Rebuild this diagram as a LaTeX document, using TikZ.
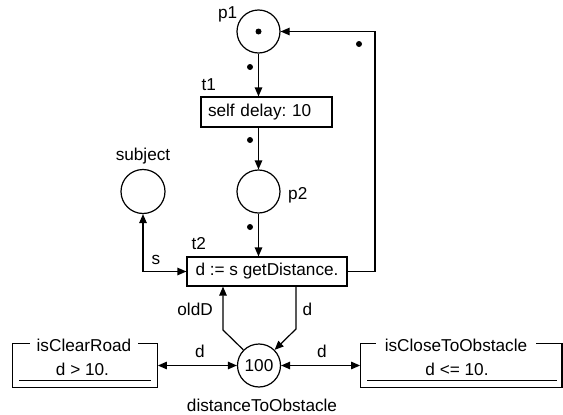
\documentclass[tikz,border=0pt]{standalone}
\usepackage{fontspec}
\setmainfont{Liberation Sans}
\usetikzlibrary{arrows.meta,positioning,calc}
\frenchspacing
\newcommand\netfont{\fontsize{17.2}{20}\selectfont}
\tikzset{
  place/.style={
    circle, draw, line width=1.2pt,
    minimum size=43pt, inner sep=0pt,
    font=\netfont
  },
  trans/.style={
    rectangle, draw, line width=1.2pt,
    minimum height=30pt, font=\netfont
  },
  token/.style={circle, fill, inner sep=0pt, minimum size=6pt},
  arc/.style={-{Triangle[length=9pt,width=7.5pt]}, line width=1.2pt},
  biarc/.style={{Triangle[length=9pt,width=7.5pt]}-{Triangle[length=9pt,width=7.5pt]},
    line width=1.2pt},
  netlabel/.style={font=\netfont, inner sep=0pt},
  guardframe/.style={rectangle, draw, line width=1.2pt, inner sep=0pt},
  guardtitle/.style={font=\netfont, fill=white, inner xsep=7pt, inner ysep=1pt},
}

\begin{document}
\begin{tikzpicture}[x=1pt, y=-1pt]
  \useasboundingbox (0,0) rectangle (563,415);
  % places and transitions
  \node[place] (p1) at (258.5,31.5) {};
  \node[trans, text width=117pt, inner xsep=7pt, align=left] (t1) at (266.5,112) {self delay: 10};
  \node[place] (p2) at (258.5,191.5) {};
  \node[trans, minimum width=160pt, minimum height=29pt] (t2) at (267,271.5) {d := s getDistance.};
  \node[place, minimum size=44pt] (subject) at (143,191.5) {};
  \node[place] (dist) at (259,365.5) {100};
  % guard frames
  \node[guardframe, minimum width=145pt, minimum height=43.5pt] (clearFrame) at (84.8,365.5) {};
  \node[guardtitle] (clearTitle) at (84,345.5) {isClearRoad};
  \node[netlabel] (clearGuard) at (82.5,369) {d > 10.};
  \draw[line width=1.2pt] ([xshift=7.7pt,yshift=7pt]clearFrame.south west) -- ([xshift=-7.3pt,yshift=7pt]clearFrame.south east);
  \node[guardframe, minimum width=201.3pt, minimum height=43.5pt] (closeFrame) at (461.35,365.5) {};
  \node[guardtitle, inner xsep=9pt] (closeTitle) at (456,345.5) {isCloseToObstacle};
  \node[netlabel] (closeGuard) at (457,369) {d <= 10.};
  \draw[line width=1.2pt] ([xshift=7.3pt,yshift=7pt]closeFrame.south west) -- ([xshift=-6pt,yshift=7pt]closeFrame.south east);
  % bend points
  \coordinate (loopCorner) at (375,31.5);
  \coordinate (oldBend) at (223,330);
  \coordinate (dBend) at (296,329);
  % arcs
  \draw[arc] (p1.south) -- (p1.south |- t1.north);
  \draw[arc] (t1.south -| p2) -- (p2.north);
  \draw[arc] (p2.south) -- (p2.south |- t2.north);
  \draw[arc] (t2.east) -| (loopCorner) -- (p1.east);
  \draw[biarc] (subject.south) |- (t2.west);
  \draw[arc] (dist.north west) -- (oldBend) -- (oldBend |- t2.south);
  \draw[arc] (dBend |- t2.south) -- (dBend) -- (dist.north east);
  \draw[biarc] (clearFrame.east) -- (dist.west);
  \draw[biarc] (dist.east) -- (closeFrame.west);
  % tokens
  \node[token] (tokP1) at (p1) {};
  \node[token] (tokA) at (250,67) {};
  \node[token] (tokB) at (250,140) {};
  \node[token] (tokC) at (250,227) {};
  \node[token] (tokD) at (359,44) {};
  % labels
  \node[netlabel, anchor=base east] (labP1) at (237.5,19) {p1};
  \node[netlabel, anchor=base west] (labT1) at ([xshift=1pt,yshift=6pt]t1.north west) {t1};
  \node[netlabel, anchor=base west] (labP2) at (288,199) {p2};
  \node[netlabel, anchor=base west] (labT2) at ([xshift=5pt,yshift=7pt]t2.north west) {t2};
  \node[netlabel, anchor=base] (labSubject) at ([yshift=8pt]subject.north) {subject};
  \node[netlabel, anchor=base west] (labS) at (151.5,264) {s};
  \node[netlabel, anchor=base east] (labOldD) at (213,315) {oldD};
  \node[netlabel, anchor=base west] (labD1) at (302.5,315) {d};
  \node[netlabel, anchor=base west] (labD2) at (195,357) {d};
  \node[netlabel, anchor=base west] (labD3) at (317,357) {d};
  \node[netlabel, anchor=base] (labDist) at (262,411) {distanceToObstacle};
\end{tikzpicture}
\end{document}
